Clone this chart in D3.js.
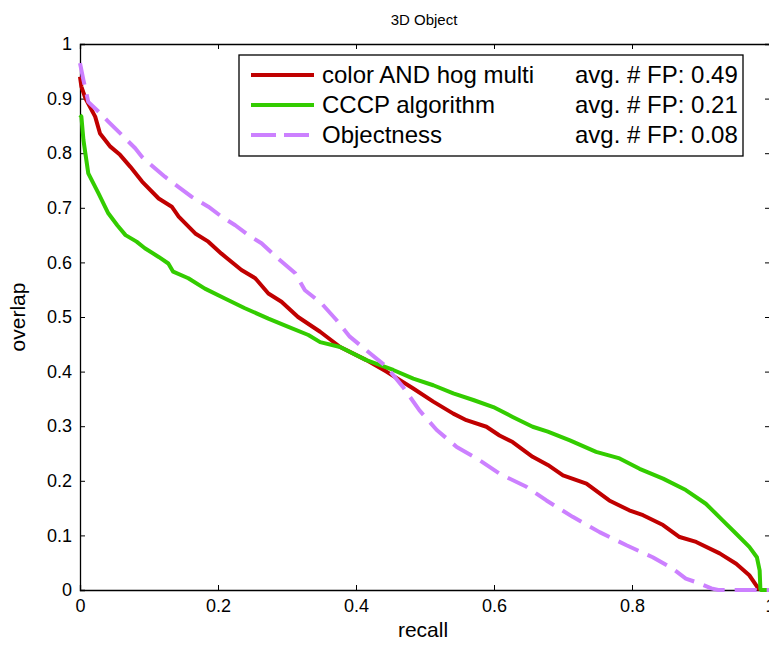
<!DOCTYPE html>
<html>
<head>
<meta charset="utf-8">
<script src="https://cdn.jsdelivr.net/npm/d3@7"></script>
<style>
  body { margin: 0; background: #fff; }
  text { font-family: "Liberation Sans", Arial, sans-serif; fill: #000; }
</style>
</head>
<body>
<div id="chart"></div>
<script>
// data: [recall, overlap]
var colorHog = [[0,0.94],[0.002,0.922],[0.008,0.90],[0.022,0.867],[0.029,0.836],[0.044,0.812],[0.058,0.797],
  [0.073,0.775],[0.09,0.748],[0.114,0.717],[0.133,0.702],[0.143,0.684],[0.167,0.653],[0.186,0.638],
  [0.205,0.616],[0.234,0.586],[0.254,0.571],[0.273,0.543],[0.292,0.528],[0.316,0.50],[0.348,0.473],
  [0.377,0.445],[0.415,0.421],[0.444,0.40],[0.483,0.369],[0.512,0.345],[0.541,0.323],[0.56,0.311],
  [0.589,0.299],[0.608,0.283],[0.627,0.271],[0.656,0.244],[0.678,0.229],[0.70,0.21],[0.734,0.195],
  [0.767,0.164],[0.796,0.146],[0.816,0.137],[0.845,0.119],[0.869,0.097],[0.893,0.088],[0.927,0.067],
  [0.951,0.048],[0.970,0.027],[0.982,0.005],[0.985,0]];

var cccp = [[0,0.87],[0.002,0.867],[0.005,0.824],[0.012,0.763],[0.027,0.726],[0.041,0.69],[0.054,0.668],
  [0.066,0.65],[0.082,0.638],[0.094,0.626],[0.114,0.61],[0.128,0.598],[0.135,0.583],[0.157,0.571],
  [0.181,0.552],[0.21,0.534],[0.239,0.516],[0.273,0.497],[0.302,0.482],[0.331,0.467],[0.348,0.454],
  [0.377,0.445],[0.415,0.421],[0.454,0.403],[0.483,0.387],[0.512,0.375],[0.541,0.36],[0.57,0.348],
  [0.599,0.335],[0.627,0.317],[0.656,0.299],[0.678,0.29],[0.71,0.274],[0.748,0.253],[0.782,0.241],
  [0.811,0.222],[0.845,0.204],[0.878,0.183],[0.907,0.158],[0.931,0.128],[0.951,0.103],[0.970,0.079],
  [0.981,0.060],[0.985,0.036],[0.986,0.003],[0.987,0],[1,0]];

var objectness = [[0,0.965],[0.005,0.934],[0.012,0.894],[0.027,0.876],[0.041,0.858],[0.061,0.833],
  [0.08,0.809],[0.09,0.793],[0.109,0.772],[0.123,0.757],[0.143,0.738],[0.162,0.72],[0.186,0.702],
  [0.205,0.684],[0.225,0.668],[0.244,0.65],[0.263,0.635],[0.287,0.607],[0.312,0.58],[0.326,0.549],
  [0.35,0.525],[0.372,0.494],[0.391,0.464],[0.415,0.439],[0.444,0.409],[0.468,0.372],[0.492,0.329],
  [0.517,0.293],[0.546,0.262],[0.575,0.241],[0.608,0.213],[0.647,0.189],[0.676,0.164],[0.714,0.134],
  [0.753,0.106],[0.792,0.082],[0.83,0.06],[0.859,0.039],[0.878,0.021],[0.898,0.012],[0.915,0.003],
  [0.925,0],[1,0]];

var seriesNames = ["color AND hog multi", "CCCP algorithm", "Objectness"];
var avgFP = ["0.49", "0.21", "0.08"];
var xTicks = [0, 0.2, 0.4, 0.6, 0.8, 1];
var yTicks = [0, 0.1, 0.2, 0.3, 0.4, 0.5, 0.6, 0.7, 0.8, 0.9, 1];

var svgWidth = 769;
var svgHeight = 648;
var margin = { top: 44, right: -1, bottom: 58, left: 80 };
var width = svgWidth - margin.left - margin.right;
var height = svgHeight - margin.top - margin.bottom;

var svg = d3.select("#chart")
  .append("svg")
  .attr("width", svgWidth)
  .attr("height", svgHeight)
  .style("display", "block");

var chartGroup = svg.append("g")
  .attr("transform", `translate(${margin.left}, ${margin.top})`);

var xScale = d3.scaleLinear().domain([0, 1]).range([0, width]);
var yScale = d3.scaleLinear().domain([0, 1]).range([height, 0]);

var fmt = d => d === 0 ? "0" : d === 1 ? "1" : String(d);

// axes, ticks pointing inward like matlab
var bottomAxis = d3.axisBottom(xScale).tickValues(xTicks).tickSize(-5).tickPadding(9).tickFormat(fmt);
var leftAxis = d3.axisLeft(yScale).tickValues(yTicks).tickSize(-5).tickPadding(8).tickFormat(fmt);
var topAxis = d3.axisTop(xScale).tickValues(xTicks).tickSize(-5).tickFormat("");
var rightAxis = d3.axisRight(yScale).tickValues(yTicks).tickSize(-5).tickFormat("");

var xAxis = chartGroup.append("g").attr("transform", `translate(0, ${height})`).call(bottomAxis);
var yAxis = chartGroup.append("g").call(leftAxis);
chartGroup.append("g").call(topAxis);
chartGroup.append("g").attr("transform", `translate(${width}, 0)`).call(rightAxis);

chartGroup.selectAll(".domain").attr("stroke", "#000").attr("stroke-width", 1.3);
chartGroup.selectAll(".tick line").attr("stroke", "#000").attr("stroke-width", 1);
xAxis.selectAll("text").style("font-size", "18px").attr("font-family", null);
yAxis.selectAll("text").style("font-size", "18px").attr("font-family", null);

// lines
var line = d3.line().x(d => xScale(d[0])).y(d => yScale(d[1]));
var series = [
  { data: colorHog, color: "#c00000", dash: null },
  { data: cccp, color: "#33cc00", dash: null },
  { data: objectness, color: "#cc80ff", dash: "22,10" }
];

chartGroup.selectAll(".curve")
  .data(series)
  .enter()
  .append("path")
  .attr("class", "curve")
  .attr("d", d => line(d.data))
  .attr("fill", "none")
  .attr("stroke", d => d.color)
  .attr("stroke-width", 4)
  .attr("stroke-linejoin", "round")
  .attr("stroke-dasharray", d => d.dash);

// legend
var legend = svg.append("g").attr("transform", "translate(239, 55)");
legend.append("rect")
  .attr("width", 504)
  .attr("height", 101)
  .attr("fill", "#fff")
  .attr("stroke", "#000")
  .attr("stroke-width", 1.3);

series.forEach(function(s, i) {
  var yy = 20 + i * 30;
  legend.append("line")
    .attr("x1", 12).attr("x2", 75)
    .attr("y1", yy).attr("y2", yy)
    .attr("stroke", s.color)
    .attr("stroke-width", 4)
    .attr("stroke-dasharray", s.dash ? "25,8" : null);
  legend.append("text")
    .attr("x", 83).attr("y", yy + 8)
    .style("font-size", "24px")
    .text(seriesNames[i]);
  legend.append("text")
    .attr("x", 336).attr("y", yy + 8)
    .style("font-size", "24px")
    .text("avg. # FP: " + avgFP[i]);
});

// title and axis labels
svg.append("text")
  .attr("x", 424).attr("y", 25)
  .attr("text-anchor", "middle")
  .style("font-size", "15px")
  .text("3D Object");

svg.append("text")
  .attr("x", 423).attr("y", 637)
  .attr("text-anchor", "middle")
  .style("font-size", "21px")
  .text("recall");

svg.append("text")
  .attr("transform", "translate(25, 317) rotate(-90)")
  .attr("text-anchor", "middle")
  .style("font-size", "21px")
  .text("overlap");
</script>
</body>
</html>
